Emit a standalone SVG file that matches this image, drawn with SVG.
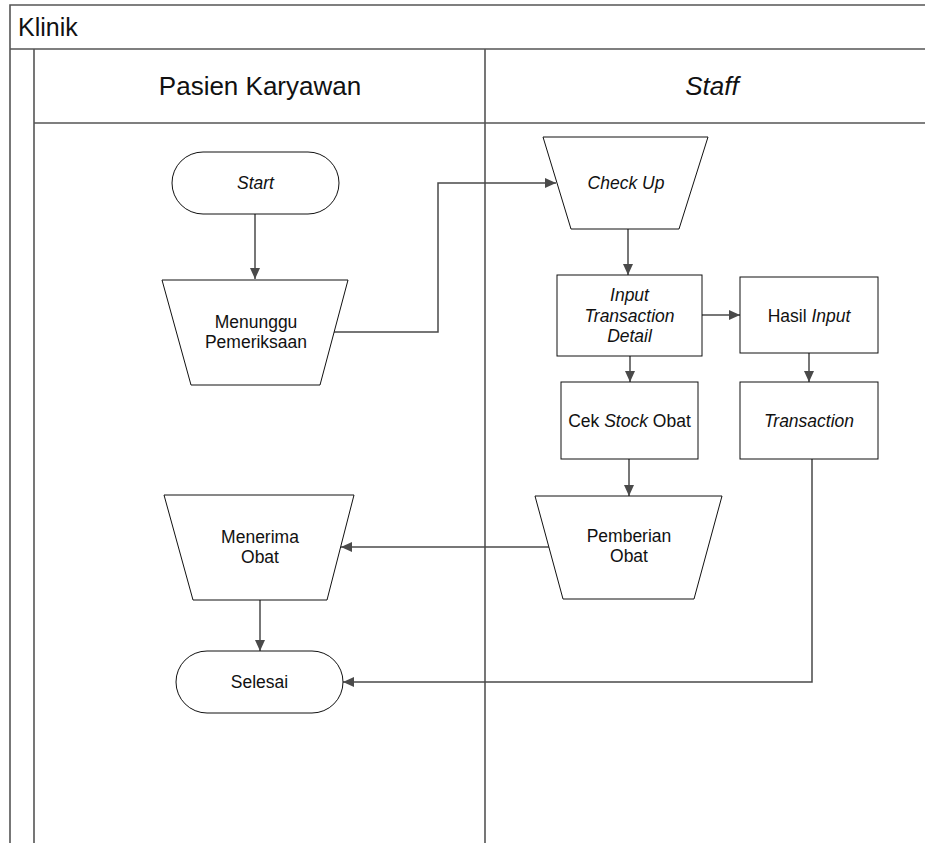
<svg xmlns="http://www.w3.org/2000/svg" width="925" height="843" viewBox="0 0 925 843">
<style>
.lane{stroke:#555;stroke-width:1.6;fill:none}
.shape{fill:#fff;stroke:#111;stroke-width:1}
.conn{fill:none;stroke:#4a4a4a;stroke-width:1.5}
text{font-family:"Liberation Sans",Arial,sans-serif;fill:#111}
.t{font-size:17.5px;text-anchor:middle}
.i{font-style:italic}
.h{font-size:26px;text-anchor:middle}
</style>
<defs>
<marker id="arr" markerWidth="12" markerHeight="10" refX="11" refY="5" orient="auto" markerUnits="userSpaceOnUse">
<path d="M0,0 L11,5 L0,10 Z" fill="#4a4a4a"/>
</marker>
</defs>
<rect width="925" height="843" fill="#fff"/>
<g id="pool">
<path class="lane" d="M10,843 V5 H925 M10,49 H925 M34,49 V843 M34,123 H925 M485,49 V843"/>
<text x="18" y="36" font-size="25">Klinik</text>
<text class="h" x="260" y="95">Pasien Karyawan</text>
<text class="h i" x="712" y="95">Staff</text>
</g>
<g id="connectors">
<path class="conn" d="M255,214 V279" marker-end="url(#arr)"/>
<path class="conn" d="M334,332 H438 V183 H556" marker-end="url(#arr)"/>
<path class="conn" d="M628,229 V275" marker-end="url(#arr)"/>
<path class="conn" d="M702,315 H740" marker-end="url(#arr)"/>
<path class="conn" d="M809,353 V382" marker-end="url(#arr)"/>
<path class="conn" d="M630,356 V382" marker-end="url(#arr)"/>
<path class="conn" d="M629,459 V496" marker-end="url(#arr)"/>
<path class="conn" d="M549,547 H341" marker-end="url(#arr)"/>
<path class="conn" d="M260,600 V651" marker-end="url(#arr)"/>
<path class="conn" d="M812,459 V682 H343" marker-end="url(#arr)"/>
</g>
<g id="start">
<rect class="shape" x="172" y="152" width="167" height="62" rx="31"/>
<text class="t i" x="255.5" y="189">Start</text>
</g>
<g id="menunggu">
<polygon class="shape" points="162,280 348,280 320,385 191,385"/>
<text class="t" x="256" y="328">Menunggu</text>
<text class="t" x="256" y="348">Pemeriksaan</text>
</g>
<g id="checkup">
<polygon class="shape" points="543,137 708,137 679,229 571,229"/>
<text class="t i" x="626" y="189">Check Up</text>
</g>
<g id="inputdetail">
<rect class="shape" x="557" y="275" width="145" height="81"/>
<text class="t i" x="629.5" y="301">Input</text>
<text class="t i" x="629.5" y="322">Transaction</text>
<text class="t i" x="629.5" y="342">Detail</text>
</g>
<g id="hasilinput">
<rect class="shape" x="740" y="277" width="138" height="76"/>
<text class="t" x="809" y="322">Hasil <tspan class="i">Input</tspan></text>
</g>
<g id="cekstock">
<rect class="shape" x="561" y="382" width="137" height="77"/>
<text class="t" x="629.5" y="427">Cek <tspan class="i">Stock</tspan> Obat</text>
</g>
<g id="transaction">
<rect class="shape" x="740" y="382" width="138" height="77"/>
<text class="t i" x="809" y="427">Transaction</text>
</g>
<g id="pemberian">
<polygon class="shape" points="535,496 722,496 694,599 563,599"/>
<text class="t" x="629" y="542">Pemberian</text>
<text class="t" x="629" y="562">Obat</text>
</g>
<g id="menerima">
<polygon class="shape" points="164,495 354,495 327,600 193,600"/>
<text class="t" x="260" y="543">Menerima</text>
<text class="t" x="260" y="563">Obat</text>
</g>
<g id="selesai">
<rect class="shape" x="176" y="651" width="167" height="62" rx="31"/>
<text class="t" x="259.5" y="688">Selesai</text>
</g>
</svg>
